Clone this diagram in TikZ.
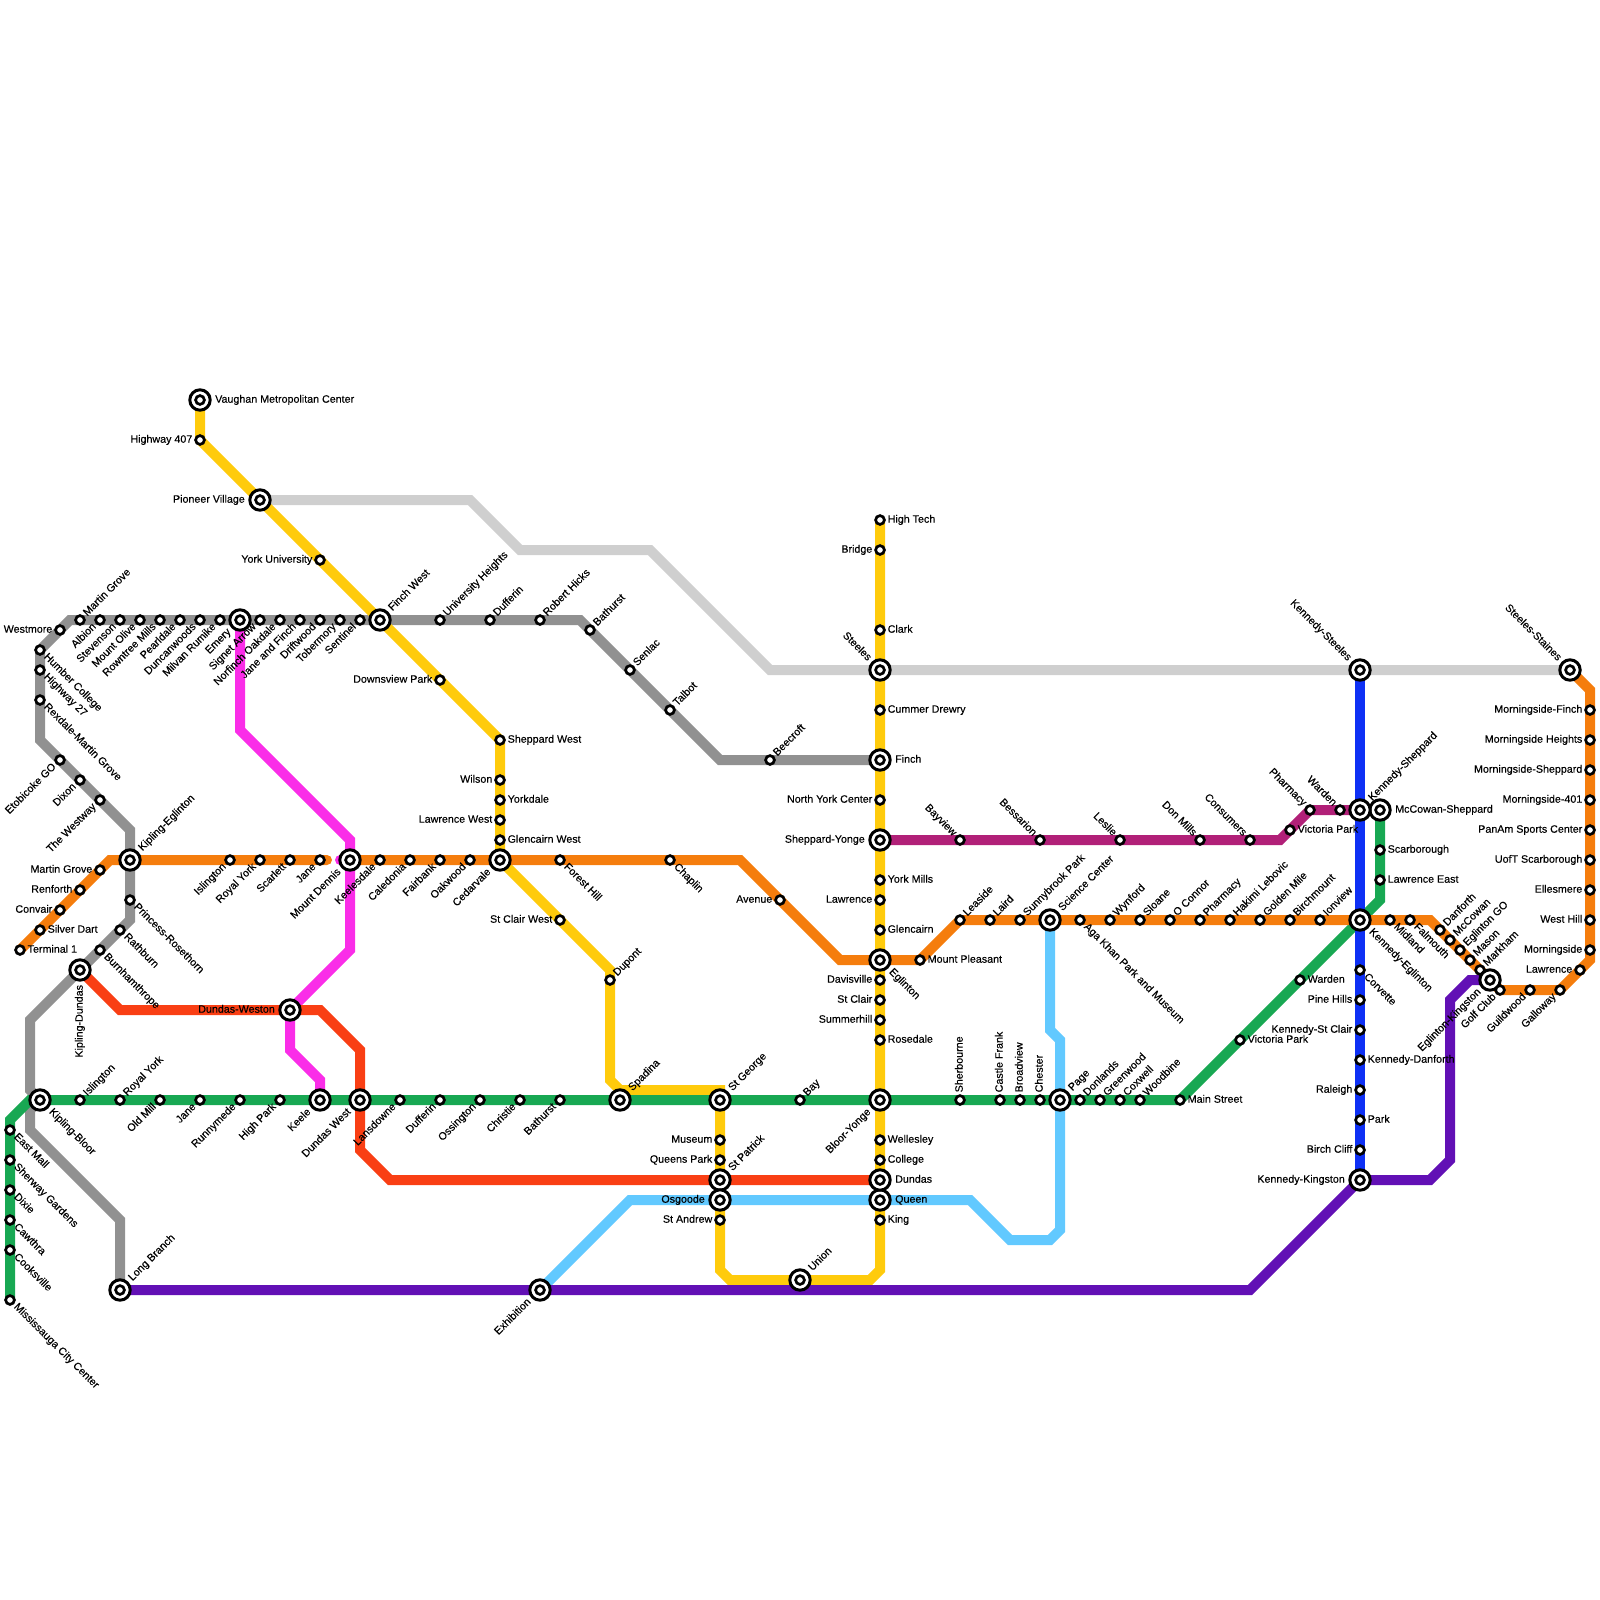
\documentclass[tikz,border=0pt]{standalone}
\usepackage{fontspec}
\newfontfamily\lab{Liberation Sans}[FakeBold=0.22]
\pgfdeclarelayer{lines}
\pgfdeclarelayer{toplabels}
\pgfsetlayers{lines,main,toplabels}
\definecolor{cyel}{HTML}{FFCB0C}
\definecolor{cgry}{HTML}{919191}
\definecolor{clgr}{HTML}{CFCFCF}
\definecolor{cora}{HTML}{F57D0D}
\definecolor{cmag}{HTML}{FA2DE8}
\definecolor{cgrn}{HTML}{18A853}
\definecolor{cblu}{HTML}{0E30F5}
\definecolor{clbl}{HTML}{62C9FF}
\definecolor{cred}{HTML}{F93F14}
\definecolor{cpur}{HTML}{6210B5}
\definecolor{cdmg}{HTML}{B12078}
\tikzset{
  smst/.style={circle,draw=black,fill=white,line width=2.7pt,minimum size=8.8pt,inner sep=0pt,outer sep=0pt},
  bgst/.style={circle,draw=black,fill=white,line width=3pt,minimum size=20.4pt,inner sep=0pt,outer sep=0pt},
  lb/.style={font=\lab\fontsize{10.7}{12}\selectfont,inner sep=0pt,outer sep=0pt,text=black},
  lnk/.style={line width=10pt,line join=miter,miter limit=10},
  sR/.style={anchor=base west,shift={(7.7,2.7)}},
  sL/.style={anchor=base east,shift={(-7.7,2.7)}},
  sUR/.style={anchor=base west,shift={(7.35,-3.54)},rotate=45},
  sDR/.style={anchor=base west,shift={(3.54,7.35)},rotate=-45},
  sUL/.style={anchor=base east,shift={(-7.35,-3.54)},rotate=-45},
  sDL/.style={anchor=base east,shift={(-3.54,7.35)},rotate=45},
  sV/.style={anchor=base west,shift={(2.7,-7.7)},rotate=90},
  bR/.style={anchor=base west,shift={(15.2,2.7)}},
  bL/.style={anchor=base east,shift={(-15.2,2.7)}},
  bUR/.style={anchor=base west,shift={(12.5,-8.7)},rotate=45},
  bDR/.style={anchor=base west,shift={(8.7,12.5)},rotate=-45},
  bUL/.style={anchor=base east,shift={(-12.5,-8.7)},rotate=-45},
  bDL/.style={anchor=base east,shift={(-8.7,12.5)},rotate=45},
  bVD/.style={anchor=base east,shift={(2.7,15)},rotate=90},
}
% id x y labelstyle text
\newcommand\Sm[5]{%
  \node[smst] (#1) at (#2,#3) {};
  \begin{pgfonlayer}{toplabels}\node[lb,#4] (#1L) at (#2,#3) {#5};\end{pgfonlayer}}
\newcommand\Bg[5]{%
  \node[bgst] (#1) at (#2,#3) {};
  \node[smst] (#1I) at (#2,#3) {};
  \begin{pgfonlayer}{toplabels}\node[lb,#4] (#1L) at (#2,#3) {#5};\end{pgfonlayer}}
\begin{document}
\begin{tikzpicture}[x=1pt,y=-1pt]
\useasboundingbox (0,0) rectangle (1600,1600);
% ---- yellow line
\Bg{vau}{200}{400}{bR}{Vaughan Metropolitan Center}
\Sm{hwf}{200}{440}{sL}{Highway 407}
\Bg{pio}{260}{500}{bL}{Pioneer Village}
\Sm{yun}{320}{560}{sL}{York University}
\Bg{fwe}{380}{620}{bUR}{Finch West}
\Sm{dvp}{440}{680}{sL}{Downsview Park}
\Sm{shw}{500}{740}{sR}{Sheppard West}
\Sm{wil}{500}{780}{sL}{Wilson}
\Sm{ykd}{500}{800}{sR}{Yorkdale}
\Sm{lwe}{500}{820}{sL}{Lawrence West}
\Sm{gcw}{500}{840}{sR}{Glencairn West}
\Bg{ced}{500}{860}{bDL}{Cedarvale}
\Sm{scw}{560}{920}{sL}{St Clair West}
\Sm{dup}{610}{980}{sUR}{Dupont}
\Bg{spa}{620}{1100}{bUR}{Spadina}
\Bg{sge}{720}{1100}{bUR}{St George}
\Sm{mus}{720}{1140}{sL}{Museum}
\Sm{qpk}{720}{1160}{sL}{Queens Park}
\Bg{stp}{720}{1180}{bUR}{St Patrick}
\Bg{osg}{720}{1200}{bL}{Osgoode}
\Sm{sta}{720}{1220}{sL}{St Andrew}
\Bg{uni}{800}{1280}{bUR}{Union}
\Sm{kng}{880}{1220}{sR}{King}
\Bg{que}{880}{1200}{bR}{Queen}
\Bg{dun}{880}{1180}{bR}{Dundas}
\Sm{col}{880}{1160}{sR}{College}
\Sm{wel}{880}{1140}{sR}{Wellesley}
\Bg{bly}{880}{1100}{bDL}{Bloor-Yonge}
\Sm{ros}{880}{1040}{sR}{Rosedale}
\Sm{smh}{880}{1020}{sL}{Summerhill}
\Sm{scl}{880}{1000}{sL}{St Clair}
\Sm{dav}{880}{980}{sL}{Davisville}
\Bg{egl}{880}{960}{bDR}{Eglinton}
\Sm{gln}{880}{930}{sR}{Glencairn}
\Sm{law}{880}{900}{sL}{Lawrence}
\Sm{ymi}{880}{880}{sR}{York Mills}
\Bg{shy}{880}{840}{bL}{Sheppard-Yonge}
\Sm{nyc}{880}{800}{sL}{North York Center}
\Bg{fin}{880}{760}{bR}{Finch}
\Sm{cum}{880}{710}{sR}{Cummer Drewry}
\Bg{ste}{880}{670}{bUL}{Steeles}
\Sm{clk}{880}{630}{sR}{Clark}
\Sm{brd}{880}{550}{sL}{Bridge}
\Sm{hit}{880}{520}{sR}{High Tech}
% ---- grey line
\Sm{hum}{40}{650}{sDR}{Humber College}
\Sm{hws}{40}{670}{sDR}{Highway 27}
\Sm{rex}{40}{700}{sDR}{Rexdale-Martin Grove}
\Sm{eto}{60}{760}{sDL}{Etobicoke GO}
\Sm{dix}{80}{780}{sDL}{Dixon}
\Sm{wwy}{100}{800}{sDL}{The Westway}
\Bg{kie}{130}{860}{bUR}{Kipling-Eglinton}
\Sm{prn}{130}{900}{sDR}{Princess-Rosethorn}
\Sm{rat}{120}{930}{sDR}{Rathburn}
\Sm{bur}{100}{950}{sDR}{Burnhamthrope}
\Bg{kdu}{80}{970}{bVD}{Kipling-Dundas}
\Bg{kbl}{40}{1100}{bDR}{Kipling-Bloor}
\Bg{lbr}{120}{1290}{bUR}{Long Branch}
\Sm{wsm}{60}{630}{sL}{Westmore}
\Sm{mgv}{80}{620}{sUR}{Martin Grove}
\Sm{alb}{100}{620}{sDL}{Albion}
\Sm{stv}{120}{620}{sDL}{Stevenson}
\Sm{mol}{140}{620}{sDL}{Mount Olive}
\Sm{rwm}{160}{620}{sDL}{Rowntree Mills}
\Sm{prl}{180}{620}{sDL}{Pearldale}
\Sm{dcw}{200}{620}{sDL}{Duncanwoods}
\Sm{mlv}{220}{620}{sDL}{Milvan Rumike}
\Bg{eme}{240}{620}{bDL}{Emery}
\Sm{sig}{260}{620}{sDL}{Signet Arrow}
\Sm{nof}{280}{620}{sDL}{Norfinch Oakdale}
\Sm{jaf}{300}{620}{sDL}{Jane and Finch}
\Sm{drf}{320}{620}{sDL}{Driftwood}
\Sm{tob}{340}{620}{sDL}{Tobermory}
\Sm{sen}{360}{620}{sDL}{Sentinel}
\Sm{uhg}{440}{620}{sUR}{University Heights}
\Sm{duf}{490}{620}{sUR}{Dufferin}
\Sm{rhk}{540}{620}{sUR}{Robert Hicks}
\Sm{bat}{590}{630}{sUR}{Bathurst}
\Sm{slc}{630}{670}{sUR}{Senlac}
\Sm{tal}{670}{710}{sUR}{Talbot}
\Sm{bee}{770}{760}{sUR}{Beecroft}
% ---- orange line
\Sm{ter}{20}{950}{sR}{Terminal 1}
\Sm{sld}{40}{930}{sR}{Silver Dart}
\Sm{cnv}{60}{910}{sL}{Convair}
\Sm{ren}{80}{890}{sL}{Renforth}
\Sm{mge}{100}{870}{sL}{Martin Grove}
\Sm{isl}{230}{860}{sDL}{Islington}
\Sm{ryk}{260}{860}{sDL}{Royal York}
\Sm{scr}{290}{860}{sDL}{Scarlett}
\Sm{jan}{320}{860}{sDL}{Jane}
\Bg{mde}{350}{860}{bDL}{Mount Dennis}
\Sm{kel}{380}{860}{sDL}{Keelesdale}
\Sm{cal}{410}{860}{sDL}{Caledonia}
\Sm{fai}{440}{860}{sDL}{Fairbank}
\Sm{oak}{470}{860}{sDL}{Oakwood}
\Sm{fhl}{560}{860}{sDR}{Forest Hill}
\Sm{cha}{670}{860}{sDR}{Chaplin}
\Sm{ave}{780}{900}{sL}{Avenue}
\Sm{mpl}{920}{960}{sR}{Mount Pleasant}
\Sm{lsd}{960}{920}{sUR}{Leaside}
\Sm{lrd}{990}{920}{sUR}{Laird}
\Sm{sbk}{1020}{920}{sUR}{Sunnybrook Park}
\Bg{sci}{1050}{920}{bUR}{Science Center}
\Sm{aga}{1080}{920}{sDR}{Aga Khan Park and Museum}
\Sm{wyn}{1110}{920}{sUR}{Wynford}
\Sm{slo}{1140}{920}{sUR}{Sloane}
\Sm{ocn}{1170}{920}{sUR}{O Connor}
\Sm{pha}{1200}{920}{sUR}{Pharmacy}
\Sm{hak}{1230}{920}{sUR}{Hakimi Lebovic}
\Sm{gol}{1260}{920}{sUR}{Golden Mile}
\Sm{bir}{1290}{920}{sUR}{Birchmount}
\Sm{ion}{1320}{920}{sUR}{Ionview}
\Bg{kne}{1360}{920}{bDR}{Kennedy-Eglinton}
\Sm{mid}{1390}{920}{sDR}{Midland}
\Sm{fal}{1410}{920}{sDR}{Falmouth}
\Sm{dan}{1440}{930}{sUR}{Danforth}
\Sm{mcw}{1450}{940}{sUR}{McCowan}
\Sm{ego}{1460}{950}{sUR}{Eglinton GO}
\Sm{mas}{1470}{960}{sUR}{Mason}
\Sm{mkh}{1480}{970}{sUR}{Markham}
\Bg{eki}{1490}{980}{bDL}{Eglinton-Kingston}
\Sm{gfc}{1500}{990}{sDL}{Golf Club}
\Sm{gui}{1530}{990}{sDL}{Guildwood}
\Sm{gal}{1560}{990}{sDL}{Galloway}
\Sm{lwc}{1580}{970}{sL}{Lawrence}
\Sm{mor}{1590}{950}{sL}{Morningside}
\Sm{wht}{1590}{920}{sL}{West Hill}
\Sm{ell}{1590}{890}{sL}{Ellesmere}
\Sm{uof}{1590}{860}{sL}{UofT Scarborough}
\Sm{pan}{1590}{830}{sL}{PanAm Sports Center}
\Sm{mfo}{1590}{800}{sL}{Morningside-401}
\Sm{msh}{1590}{770}{sL}{Morningside-Sheppard}
\Sm{mhg}{1590}{740}{sL}{Morningside Heights}
\Sm{mfi}{1590}{710}{sL}{Morningside-Finch}
\Bg{sts}{1570}{670}{bUL}{Steeles-Staines}
% ---- green line
\Sm{mcc}{10}{1300}{sDR}{Mississauga City Center}
\Sm{coo}{10}{1250}{sDR}{Cooksville}
\Sm{caw}{10}{1220}{sDR}{Cawthra}
\Sm{dxi}{10}{1190}{sDR}{Dixie}
\Sm{shg}{10}{1160}{sDR}{Sherway Gardens}
\Sm{eml}{10}{1130}{sDR}{East Mall}
\Sm{igt}{80}{1100}{sUR}{Islington}
\Sm{ryg}{120}{1100}{sUR}{Royal York}
\Sm{olm}{160}{1100}{sDL}{Old Mill}
\Sm{jag}{200}{1100}{sDL}{Jane}
\Sm{run}{240}{1100}{sDL}{Runnymede}
\Sm{hpk}{280}{1100}{sDL}{High Park}
\Bg{kee}{320}{1100}{bDL}{Keele}
\Bg{dwt}{360}{1100}{bDL}{Dundas West}
\Sm{lan}{400}{1100}{sDL}{Lansdowne}
\Sm{dfg}{440}{1100}{sDL}{Dufferin}
\Sm{oss}{480}{1100}{sDL}{Ossington}
\Sm{chr}{520}{1100}{sDL}{Christie}
\Sm{btg}{560}{1100}{sDL}{Bathurst}
\Sm{bay}{800}{1100}{sUR}{Bay}
\Sm{shb}{960}{1100}{sV}{Sherbourne}
\Sm{cfr}{1000}{1100}{sV}{Castle Frank}
\Sm{brv}{1020}{1100}{sV}{Broadview}
\Sm{chs}{1040}{1100}{sV}{Chester}
\Bg{pag}{1060}{1100}{bUR}{Page}
\Sm{don}{1080}{1100}{sUR}{Donlands}
\Sm{grw}{1100}{1100}{sUR}{Greenwood}
\Sm{cox}{1120}{1100}{sUR}{Coxwell}
\Sm{woo}{1140}{1100}{sUR}{Woodbine}
\Sm{mai}{1180}{1100}{sR}{Main Street}
\Sm{vpg}{1240}{1040}{sR}{Victoria Park}
\Sm{wag}{1300}{980}{sR}{Warden}
\Sm{lae}{1380}{880}{sR}{Lawrence East}
\Sm{sca}{1380}{850}{sR}{Scarborough}
\Bg{mcs}{1380}{810}{bR}{McCowan-Sheppard}
% ---- others
\Bg{dwe}{290}{1010}{bL}{Dundas-Weston}
\Bg{exh}{540}{1290}{bDL}{Exhibition}
\Sm{bvw}{960}{840}{sUL}{Bayview}
\Sm{bes}{1040}{840}{sUL}{Bessarion}
\Sm{les}{1120}{840}{sUL}{Leslie}
\Sm{dml}{1200}{840}{sUL}{Don Mills}
\Sm{cns}{1250}{840}{sUL}{Consumers}
\Sm{vpk}{1290}{830}{sR}{Victoria Park}
\Sm{phm}{1310}{810}{sUL}{Pharmacy}
\Sm{wrd}{1340}{810}{sUL}{Warden}
\Bg{ksh}{1360}{810}{bUR}{Kennedy-Sheppard}
\Bg{kst}{1360}{670}{bUL}{Kennedy-Steeles}
\Sm{cvt}{1360}{970}{sDR}{Corvette}
\Sm{pin}{1360}{1000}{sL}{Pine Hills}
\Sm{ksc}{1360}{1030}{sL}{Kennedy-St Clair}
\Sm{kda}{1360}{1060}{sR}{Kennedy-Danforth}
\Sm{ral}{1360}{1090}{sL}{Raleigh}
\Sm{prk}{1360}{1120}{sR}{Park}
\Sm{bcl}{1360}{1150}{sL}{Birch Cliff}
\Bg{kki}{1360}{1180}{bL}{Kennedy-Kingston}
\coordinate (oraend) at (327,860);
\coordinate (magstub) at (340,860);
% ---- connectors
\begin{pgfonlayer}{lines}
\draw[lnk,clgr] (pio.center) -- (470,500) -- (520,550) -- (650,550) -- (770,670) -- (ste.center) -- (kst.center) -- (sts.center);
\draw[lnk,cgry] (fin.center) -- (bee.center) -- (720,760) -- (tal.center) -- (slc.center) -- (bat.center) -- (580,620) -- (rhk.center) -- (duf.center) -- (uhg.center) -- (fwe.center) -- (sen.center) -- (tob.center) -- (drf.center) -- (jaf.center) -- (nof.center) -- (sig.center) -- (eme.center) -- (mlv.center) -- (dcw.center) -- (prl.center) -- (rwm.center) -- (mol.center) -- (stv.center) -- (alb.center) -- (mgv.center) -- (70,620) -- (wsm.center) -- (hum.center) -- (hws.center) -- (rex.center) -- (40,740) -- (eto.center) -- (dix.center) -- (wwy.center) -- (130,830) -- (kie.center) -- (prn.center) -- (130,920) -- (rat.center) -- (bur.center) -- (kdu.center) -- (30,1020) -- (30,1090) -- (kbl.center) -- (30,1110) -- (30,1130) -- (120,1220) -- (lbr.center);
\draw[lnk,cyel] (vau.center) -- (hwf.center) -- (pio.center) -- (yun.center) -- (fwe.center) -- (dvp.center) -- (shw.center) -- (wil.center) -- (ykd.center) -- (lwe.center) -- (gcw.center) -- (ced.center) -- (scw.center) -- (610,970) -- (dup.center) -- (610,1080) -- (620,1090) -- (720,1090) -- (sge.center) -- (mus.center) -- (qpk.center) -- (stp.center) -- (osg.center) -- (sta.center) -- (720,1270) -- (730,1280) -- (uni.center) -- (870,1280) -- (880,1270) -- (kng.center) -- (que.center) -- (dun.center) -- (col.center) -- (wel.center) -- (bly.center) -- (ros.center) -- (smh.center) -- (scl.center) -- (dav.center) -- (egl.center) -- (gln.center) -- (law.center) -- (ymi.center) -- (shy.center) -- (nyc.center) -- (fin.center) -- (cum.center) -- (ste.center) -- (clk.center) -- (brd.center) -- (hit.center);
\draw[lnk,cgrn] (mcc.center) -- (coo.center) -- (caw.center) -- (dxi.center) -- (shg.center) -- (eml.center) -- (10,1120) -- (30,1100) -- (kbl.center) -- (igt.center) -- (ryg.center) -- (olm.center) -- (jag.center) -- (run.center) -- (hpk.center) -- (kee.center) -- (dwt.center) -- (lan.center) -- (dfg.center) -- (oss.center) -- (chr.center) -- (btg.center) -- (spa.center) -- (sge.center) -- (bay.center) -- (bly.center) -- (shb.center) -- (cfr.center) -- (brv.center) -- (chs.center) -- (pag.center) -- (don.center) -- (grw.center) -- (cox.center) -- (woo.center) -- (mai.center) -- (vpg.center) -- (wag.center) -- (kne.center) -- (1380,900) -- (lae.center) -- (sca.center) -- (mcs.center);
\draw[lnk,cmag] (eme.center) -- (240,730) -- (350,840) -- (mde.center) -- (350,950) -- (dwe.center) -- (290,1050) -- (320,1080) -- (kee.center);
\draw[lnk,cmag,line cap=round] (magstub) -- (mde.center);
\draw[lnk,cora,line cap=round] (ter.center) -- (sld.center) -- (cnv.center) -- (ren.center) -- (mge.center) -- (110,860) -- (kie.center) -- (isl.center) -- (ryk.center) -- (scr.center) -- (jan.center) -- (oraend);
\draw[lnk,cora] (mde.center) -- (kel.center) -- (cal.center) -- (fai.center) -- (oak.center) -- (ced.center) -- (fhl.center) -- (cha.center) -- (740,860) -- (ave.center) -- (840,960) -- (egl.center) -- (mpl.center) -- (lsd.center) -- (lrd.center) -- (sbk.center) -- (sci.center) -- (aga.center) -- (wyn.center) -- (slo.center) -- (ocn.center) -- (pha.center) -- (hak.center) -- (gol.center) -- (bir.center) -- (ion.center) -- (kne.center) -- (mid.center) -- (fal.center) -- (1430,920) -- (dan.center) -- (mcw.center) -- (ego.center) -- (mas.center) -- (mkh.center) -- (eki.center) -- (gfc.center) -- (gui.center) -- (gal.center) -- (lwc.center) -- (1590,960) -- (mor.center) -- (wht.center) -- (ell.center) -- (uof.center) -- (pan.center) -- (mfo.center) -- (msh.center) -- (mhg.center) -- (mfi.center) -- (1590,690) -- (sts.center);
\draw[lnk,cred] (kdu.center) -- (120,1010) -- (dwe.center) -- (320,1010) -- (360,1050) -- (dwt.center) -- (360,1150) -- (390,1180) -- (stp.center) -- (dun.center);
\draw[lnk,clbl] (exh.center) -- (630,1200) -- (osg.center) -- (que.center) -- (970,1200) -- (1010,1240) -- (1050,1240) -- (1060,1230) -- (pag.center) -- (1060,1040) -- (1050,1030) -- (sci.center);
\draw[lnk,cpur] (lbr.center) -- (exh.center) -- (1250,1290) -- (kki.center) -- (1430,1180) -- (1450,1160) -- (1450,1000) -- (1470,980) -- (eki.center);
\draw[lnk,cdmg] (shy.center) -- (bvw.center) -- (bes.center) -- (les.center) -- (dml.center) -- (cns.center) -- (1280,840) -- (vpk.center) -- (phm.center) -- (wrd.center) -- (ksh.center);
\draw[lnk,cblu] (kst.center) -- (ksh.center) -- (kne.center) -- (cvt.center) -- (pin.center) -- (ksc.center) -- (kda.center) -- (ral.center) -- (prk.center) -- (bcl.center) -- (kki.center);
\end{pgfonlayer}
\end{tikzpicture}
\end{document}
